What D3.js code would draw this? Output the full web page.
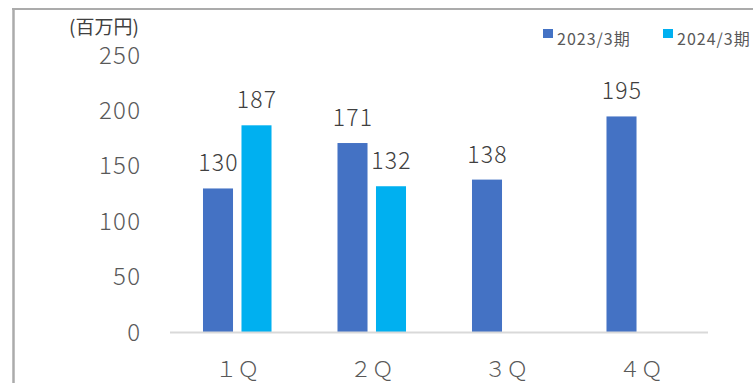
<!DOCTYPE html>
<html>
<head>
<meta charset="utf-8">
<script src="https://cdn.jsdelivr.net/npm/d3@7/dist/d3.min.js"></script>
<style>
  html, body { margin: 0; padding: 0; background: #ffffff; }
  svg { display: block; }
  text { font-family: "Noto Sans CJK JP", "Noto Sans", sans-serif; }
</style>
</head>
<body>
<svg id="chart" width="753" height="383"></svg>
<script>
// Quarterly sales (million yen)
const categories = ["１Ｑ", "２Ｑ", "３Ｑ", "４Ｑ"];
const seriesNames = ["2023/3期", "2024/3期"];
const sales2023 = [130, 171, 138, 195];
const sales2024 = [187, 132, null, null];
const yTicks = [0, 50, 100, 150, 200, 250];
const colors = ["#4472C4", "#00B0F0"];

const svg = d3.select("#chart");
const W = 753, H = 383;

// outer frame
svg.append("line").attr("x1", 13.5).attr("x2", 13.5).attr("y1", 8).attr("y2", H)
  .attr("stroke", "#ababab").attr("stroke-width", 2.5);
svg.append("line").attr("x1", 12).attr("x2", W).attr("y1", 9).attr("y2", 9)
  .attr("stroke", "#ababab").attr("stroke-width", 2);

const plot = { left: 170, right: 708, top: 55.5, bottom: 332.5 };

const x = d3.scaleBand().domain(categories).range([plot.left, plot.right]);
const xInner = d3.scaleBand().domain(seriesNames)
  .range([0, x.bandwidth()]).paddingInner(0.22).paddingOuter(0.857);
const y = d3.scaleLinear().domain([0, 250]).range([plot.bottom, plot.top]);

// y axis labels (letter-spacing adds trailing space, so shift right by it)
const yAxis = svg.append("g").attr("transform", `translate(${plot.left - 28.7},0)`)
  .call(d3.axisLeft(y).tickValues(yTicks).tickSize(0).tickPadding(0).tickFormat(d3.format("d")));
yAxis.select(".domain").remove();
yAxis.selectAll("text")
  .attr("font-size", 24).attr("fill", "#595959").attr("font-weight", 300)
  .attr("letter-spacing", 1.3)
  .style("font-family", '"Noto Sans CJK JP", sans-serif');

// unit label
svg.append("text").attr("x", 69).attr("y", 34)
  .attr("font-size", 19).attr("fill", "#404040")
  .text("(百万円)");

// bars
const rows = categories.map((c, i) => ({ cat: c, vals: [sales2023[i], sales2024[i]] }));
const groups = svg.append("g").selectAll("g").data(rows).join("g")
  .attr("transform", d => `translate(${x(d.cat)},0)`);

const items = groups.selectAll("g.item")
  .data(d => d.vals.map((v, j) => ({ s: seriesNames[j], v, j })).filter(e => e.v != null))
  .join("g").attr("class", "item");

items.append("rect")
  .attr("x", d => xInner(d.s))
  .attr("width", xInner.bandwidth())
  .attr("y", d => y(d.v))
  .attr("height", d => y(0) - y(d.v))
  .attr("fill", d => colors[d.j]);

items.append("text")
  .attr("x", d => xInner(d.s) + xInner.bandwidth() / 2 + 0.6)
  .attr("y", d => y(d.v) - 17)
  .attr("text-anchor", "middle")
  .attr("font-size", 23).attr("fill", "#404040").attr("font-weight", 300)
  .attr("letter-spacing", 1.2)
  .text(d => d.v);

// baseline
svg.append("line").attr("x1", plot.left).attr("x2", plot.right)
  .attr("y1", y(0)).attr("y2", y(0))
  .attr("stroke", "#d9d9d9").attr("stroke-width", 2);

// category labels
const xAxis = svg.append("g").attr("transform", `translate(0,${plot.bottom})`)
  .call(d3.axisBottom(x).tickSize(0).tickPadding(0));
xAxis.select(".domain").remove();
xAxis.selectAll("text")
  .attr("dy", null).attr("y", 44)
  .attr("font-size", 22).attr("fill", "#595959").attr("font-weight", 300)
  .style("font-family", '"Noto Sans CJK JP", sans-serif');

// legend
const legendX = [543, 663];
const legend = svg.append("g").selectAll("g").data(seriesNames).join("g")
  .attr("transform", (d, i) => `translate(${legendX[i]},29)`);
legend.append("rect").attr("width", 10).attr("height", 9)
  .attr("fill", (d, i) => colors[i]);
legend.append("text").attr("x", 14).attr("y", 16)
  .attr("font-size", 16).attr("fill", "#595959")
  .attr("letter-spacing", 1)
  .text(d => d);
</script>
</body>
</html>
